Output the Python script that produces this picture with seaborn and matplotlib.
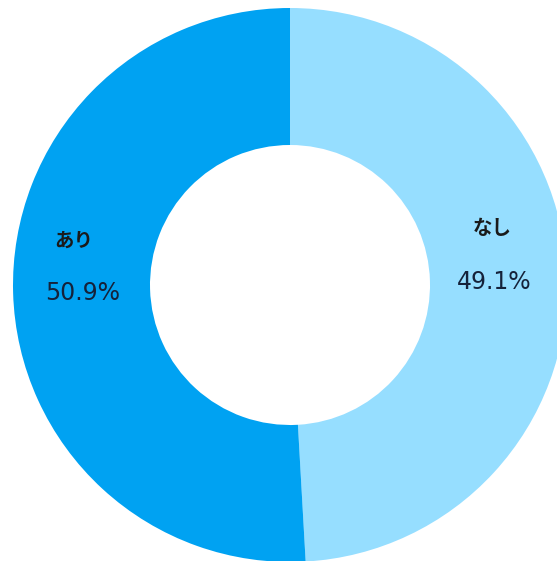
import matplotlib
matplotlib.use("Agg")
import matplotlib.pyplot as plt
import seaborn as sns

sns.set_style("white")
plt.rcParams['font.family'] = ['Noto Sans CJK JP', 'DejaVu Sans']

categories = ["なし", "あり"]
values = [49.1, 50.9]
pct_labels = ["49.1%", "50.9%"]
colors = ["#96DEFF", "#00A2F2"]

W, H = 557, 561
fig = plt.figure(figsize=(W / 100, H / 100), dpi=100)
ax = fig.add_axes([0, 0, 1, 1])

cx, cy, R = 290, H - 285, 277
ax.pie(values, colors=colors, startangle=90, counterclock=False,
       center=(cx, cy), radius=R, frame=True,
       wedgeprops=dict(width=R - 140, linewidth=0))
ax.set_xlim(0, W)
ax.set_ylim(0, H)
ax.set_aspect("equal")
ax.axis("off")

# label positions (pixel coords, y from top)
cat_pos = [(492, 228), (74, 241)]
pct_pos = [(494, 282), (83, 293)]
for cat, pct, (x1, y1), (x2, y2) in zip(categories, pct_labels, cat_pos, pct_pos):
    ax.text(x1, H - y1, cat, ha="center", va="center", fontsize=14,
            fontweight="bold", color="#1a1a1a")
    ax.text(x2, H - y2, pct, ha="center", va="center", fontsize=17,
            family=["DejaVu Sans"], color="#15223a")

fig.savefig("out.png", dpi=100)
